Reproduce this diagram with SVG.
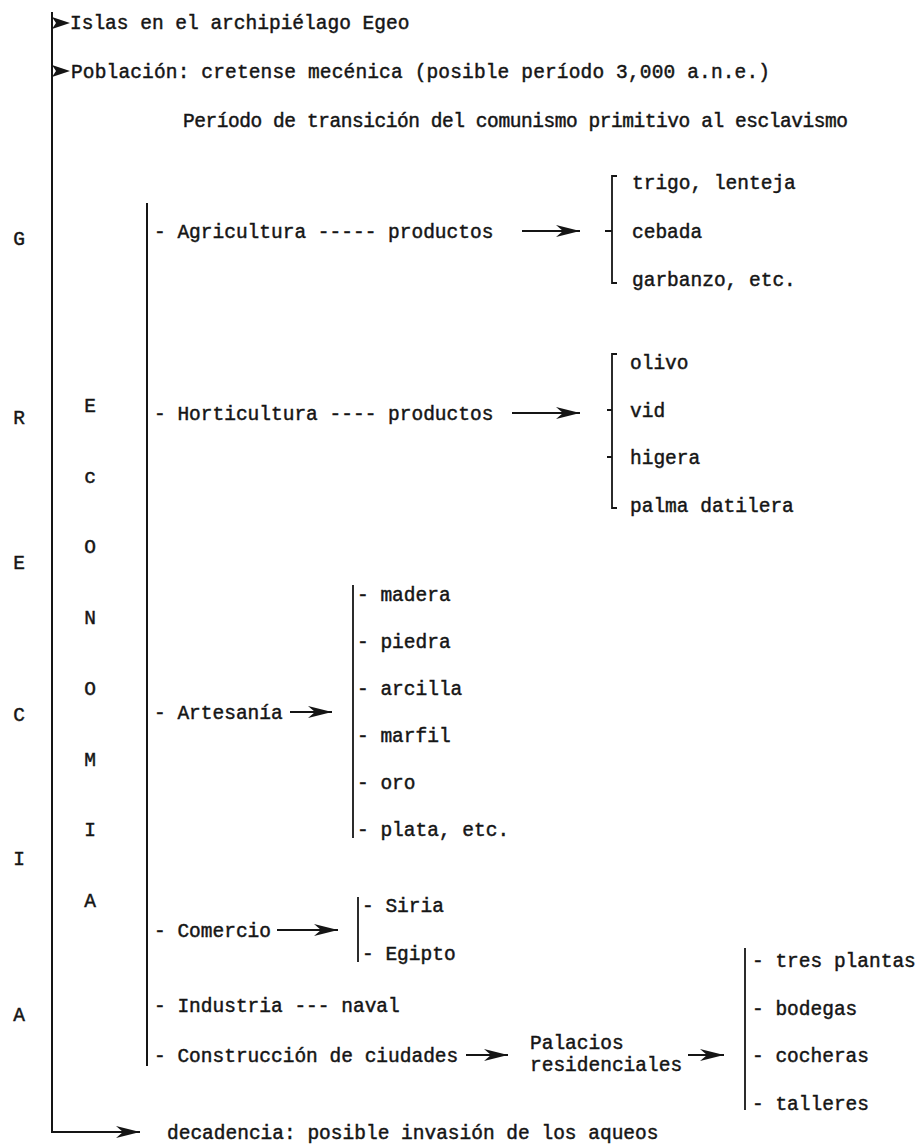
<svg xmlns="http://www.w3.org/2000/svg" width="917" height="1147" viewBox="0 0 917 1147">
<defs>
<style>
text{font-family:"Liberation Mono","DejaVu Sans Mono",monospace;font-size:19.5px;fill:#151515;stroke:#151515;stroke-width:0.45}
.ln{stroke:#151515;stroke-width:2;fill:none}
.lt{stroke:#151515;stroke-width:1.8;fill:none}
.c{text-anchor:middle}
</style>
<marker id="ah" markerUnits="userSpaceOnUse" markerWidth="26" markerHeight="14" refX="24" refY="7" orient="auto">
<path d="M0,1 L24,7 L0,13 L7,7 Z" fill="#151515"/>
</marker>
</defs>
<rect width="917" height="1147" fill="#fff"/>

<g id="connectors">
<path class="ln" d="M52,12 V1132 H140" marker-end="url(#ah)"/>
<polygon points="52,17 70,23 52,29 56,23" fill="#151515"/>
<polygon points="52,65 70,71 52,77 56,71" fill="#151515"/>
<path class="ln" d="M147,203 V1066"/>
<path class="lt" d="M522,231 H580" marker-end="url(#ah)"/>
<path class="lt" d="M617,176 H612 V283 H617 M605,231 H612"/>
<path class="lt" d="M512,413 H580" marker-end="url(#ah)"/>
<path class="lt" d="M617,354 H612 V508 H617 M607,410 H612 M607,457 H612"/>
<path class="lt" d="M290,712 H332" marker-end="url(#ah)"/>
<path class="lt" d="M353,585 V838"/>
<path class="lt" d="M277,930 H338" marker-end="url(#ah)"/>
<path class="lt" d="M358,897 V962"/>
<path class="lt" d="M466,1055 H508" marker-end="url(#ah)"/>
<path class="lt" d="M688,1055 H724" marker-end="url(#ah)"/>
<path class="lt" d="M745,948 V1110"/>
</g>

<g id="top">
<text x="70" y="29">Islas en el archipiélago Egeo</text>
<text x="71" y="78" textLength="699" lengthAdjust="spacing">Población: cretense mecénica (posible período 3,000 a.n.e.)</text>
<text x="183" y="127" textLength="665" lengthAdjust="spacing">Período de transición del comunismo primitivo al esclavismo</text>
</g>

<g id="grecia">
<text class="c" x="19" y="245">G</text>
<text class="c" x="19" y="424">R</text>
<text class="c" x="19" y="569">E</text>
<text class="c" x="19" y="721">C</text>
<text class="c" x="19" y="865">I</text>
<text class="c" x="19" y="1021">A</text>
</g>

<g id="economia">
<text class="c" x="90" y="412">E</text>
<text class="c" x="90" y="483">c</text>
<text class="c" x="90" y="553">O</text>
<text class="c" x="90" y="624">N</text>
<text class="c" x="90" y="695">O</text>
<text class="c" x="90" y="766">M</text>
<text class="c" x="90" y="836">I</text>
<text class="c" x="90" y="907">A</text>
</g>

<g id="agricultura">
<text x="154" y="238">- Agricultura ----- productos</text>
<text x="632" y="189">trigo, lenteja</text>
<text x="632" y="238">cebada</text>
<text x="632" y="286">garbanzo, etc.</text>
</g>

<g id="horticultura">
<text x="154" y="420">- Horticultura ---- productos</text>
<text x="630" y="369">olivo</text>
<text x="630" y="417">vid</text>
<text x="630" y="464">higera</text>
<text x="630" y="512">palma datilera</text>
</g>

<g id="artesania">
<text x="154" y="719">- Artesanía</text>
<text x="357" y="601">- madera</text>
<text x="357" y="648">- piedra</text>
<text x="357" y="695">- arcilla</text>
<text x="357" y="742">- marfil</text>
<text x="357" y="789">- oro</text>
<text x="357" y="836">- plata, etc.</text>
</g>

<g id="comercio">
<text x="154" y="937">- Comercio</text>
<text x="362" y="912">- Siria</text>
<text x="362" y="960">- Egipto</text>
</g>

<g id="industria">
<text x="154" y="1012">- Industria  --- naval</text>
</g>

<g id="construccion">
<text x="154" y="1062">- Construcción de ciudades</text>
<text x="530" y="1049">Palacios</text>
<text x="530" y="1071">residenciales</text>
<text x="752" y="967">- tres plantas</text>
<text x="752" y="1015">- bodegas</text>
<text x="752" y="1062">- cocheras</text>
<text x="752" y="1110">- talleres</text>
</g>

<g id="decadencia">
<text x="167" y="1139">decadencia: posible invasión de los aqueos</text>
</g>
</svg>
